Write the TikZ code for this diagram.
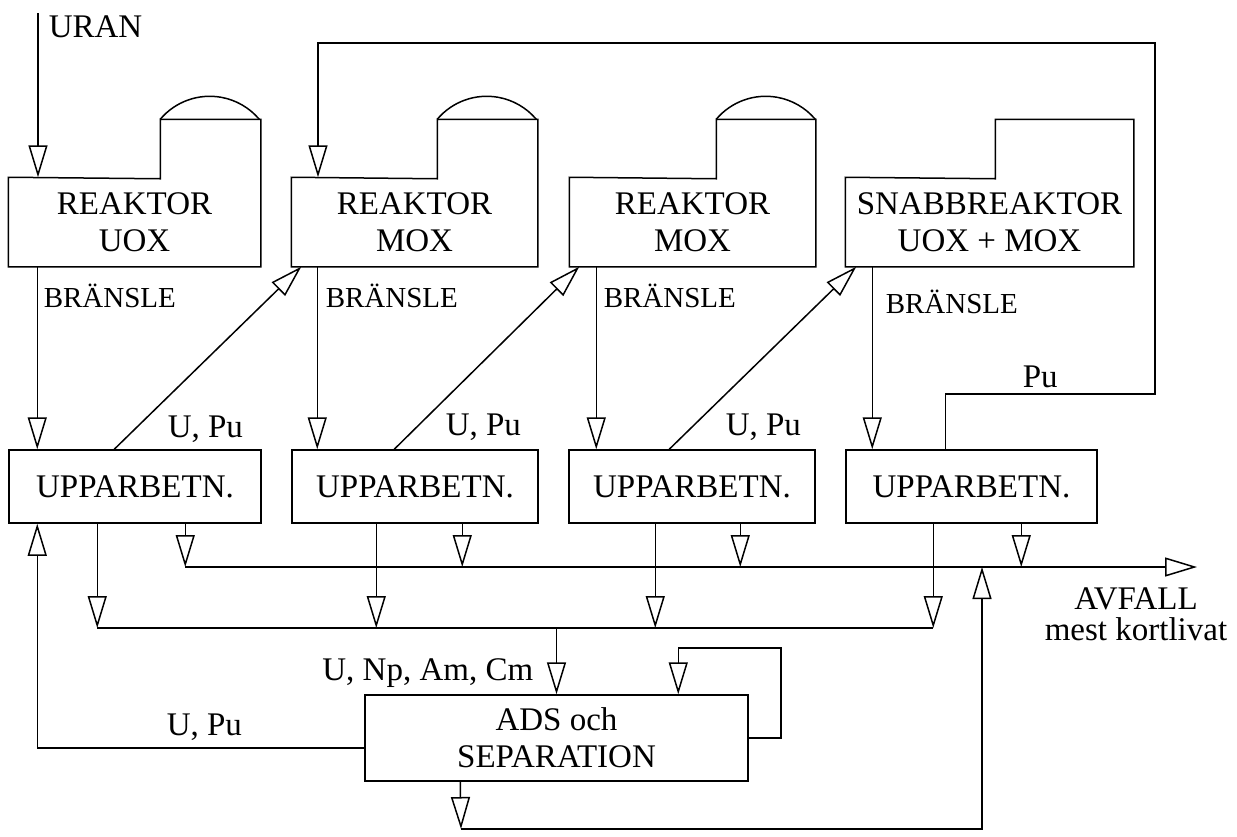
\documentclass[tikz,border=0pt]{standalone}
\usepackage{fontspec}
\setmainfont{Liberation Serif}
\usetikzlibrary{arrows.meta}
\tikzset{
  pil/.style={-{Triangle[open,length=32pt,width=19pt]}},
  ruta/.style={draw, inner sep=0pt, align=center, font=\fontsize{33}{37}\selectfont},
  kropp/.style={inner sep=0pt, align=center, font=\fontsize{33}{37}\selectfont},
  torn/.style={inner sep=0pt, minimum height=58pt},
  etikett/.style={inner sep=0pt, anchor=base west, font=\fontsize{33}{37}\selectfont},
  bransle/.style={etikett, font=\fontsize{29}{31}\selectfont},
}

\begin{document}
\begin{tikzpicture}[x=1pt, y=-1pt, line width=1.5pt]
\useasboundingbox (0,0) rectangle (1237,836);

% reaktorer
\node[kropp, minimum width=251pt, minimum height=88pt] (r1) at (134.5,222) {REAKTOR\\UOX};
\node[kropp, minimum width=245pt, minimum height=88pt] (r2) at (414.5,222) {REAKTOR\\MOX};
\node[kropp, minimum width=245pt, minimum height=88pt] (r3) at (692.5,222) {REAKTOR\\MOX};
\node[kropp, minimum width=287pt, minimum height=88pt] (r4) at (989.5,222) {SNABBREAKTOR\\UOX + MOX};
\node[torn, minimum width=99pt] (t1) at (210.5,149) {};
\node[torn, minimum width=99pt] (t2) at (487.5,149) {};
\node[torn, minimum width=98pt] (t3) at (766,149) {};
\node[torn, minimum width=137pt] (t4) at (1064.5,149) {};
\foreach \n in {1,2,3,4}
  \draw (r\n.north west) -- (t\n.south west) |- (t\n.north east) |- (r\n.south west) -- cycle;
\foreach \n in {1,2,3}
  \draw (t\n.north west) arc[start angle=-139.8, end angle=-40.2, radius=64.8];

% upparbetning
\node[ruta, minimum width=252pt, minimum height=73pt] (u1) at (135,486.5) {UPPARBETN.};
\node[ruta, minimum width=246pt, minimum height=73pt] (u2) at (415,486.5) {UPPARBETN.};
\node[ruta, minimum width=246pt, minimum height=73pt] (u3) at (692,486.5) {UPPARBETN.};
\node[ruta, minimum width=251pt, minimum height=73pt] (u4) at (971.5,486.5) {UPPARBETN.};
\node[ruta, minimum width=383pt, minimum height=86pt] (ads) at (556.5,738) {ADS och\\SEPARATION};

\coordinate (uran) at (38,13);
\coordinate (avf) at (1197,567);
\coordinate (samla) at (557,628);
\coordinate (puR) at (1155,394);
\coordinate (puT) at (318,43);
\coordinate (slinga) at (781,648);
\coordinate (botten) at (461,829);
\coordinate (upp) at (982,567);

% flöden
\draw[pil] (uran) -- (uran |- r1.north);
\foreach \n/\dx in {1/29pt,2/26pt,3/27pt,4/27pt}{
  \coordinate (f\n) at ([xshift=\dx]r\n.south west);
  \draw[pil] (f\n) -- (f\n |- u\n.north);
}
\draw[pil] ([xshift=106pt]u1.north west) -- ([xshift=10pt]r2.south west);
\draw[pil] ([xshift=103pt]u2.north west) -- ([xshift=10pt]r3.south west);
\draw[pil] ([xshift=101pt]u3.north west) -- ([xshift=11pt]r4.south west);
\draw[pil] ([xshift=100pt]u4.north west) |- (puR) |- (puT) -- (puT |- r2.north);

\foreach \n/\da/\dk in {1/177pt/89pt,2/171pt/85pt,3/172pt/87pt,4/176pt/88pt}{
  \coordinate (a\n) at ([xshift=\da]u\n.south west);
  \coordinate (k\n) at ([xshift=\dk]u\n.south west);
  \draw[pil] (a\n) -- (a\n |- avf);
  \draw[pil] (k\n) -- (k\n |- samla);
}
\draw[pil] (a1 |- avf) -- (avf);
\draw (k1 |- samla) -- (k4 |- samla);
\draw[pil] (ads.north |- samla) -- (ads.north);
\draw[pil] (ads.east) -| (slinga) -| ([xshift=314pt]ads.north west);
\draw[pil] ([yshift=-10pt]ads.west) -| ([xshift=29pt]u1.south west);
\draw[pil] ([xshift=96pt]ads.south west) -- (botten);
\draw[pil] (botten) -| (upp);

% texter
\node[etikett] (luran) at (48,37) {URAN};
\node[bransle] (b1) at (43,307) {BRÄNSLE};
\node[bransle] (b2) at (325,307) {BRÄNSLE};
\node[bransle] (b3) at (603,307) {BRÄNSLE};
\node[bransle] (b4) at (885,313) {BRÄNSLE};
\node[etikett] (up1) at (167,437) {U, Pu};
\node[etikett] (up2) at (445,435) {U, Pu};
\node[etikett] (up3) at (725,435) {U, Pu};
\node[etikett] (pu) at (1022,387) {Pu};
\node[etikett, anchor=base east] (akt) at (534,680) {U, Np, Am, Cm};
\node[etikett] (up4) at (166,735) {U, Pu};
\node[kropp, font=\fontsize{33}{31}\selectfont, anchor=north] (avfall) at (1136,587) {AVFALL\\mest kortlivat};
\end{tikzpicture}
\end{document}
